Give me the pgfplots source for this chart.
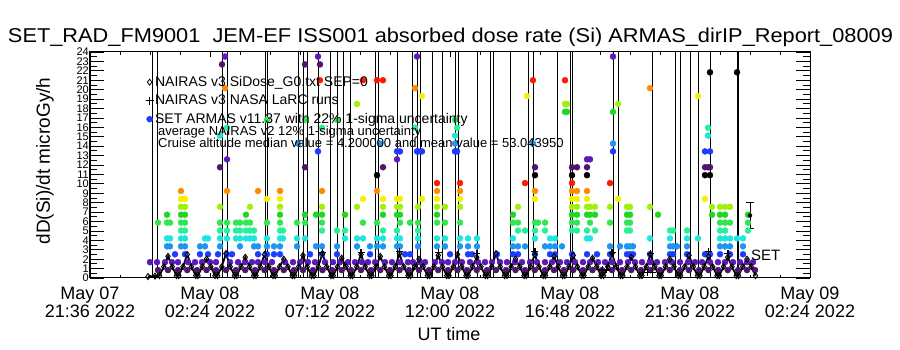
\documentclass[border=0pt]{standalone}
\usepackage{pgfplots}
\pgfplotsset{compat=1.18}
\usepackage{fontspec}
\setmainfont{Liberation Sans}
\definecolor{c0}{RGB}{0,0,0}
\definecolor{c1}{RGB}{80,20,110}
\definecolor{c2}{RGB}{90,25,185}
\definecolor{c3}{RGB}{30,60,255}
\definecolor{c4}{RGB}{30,150,240}
\definecolor{c5}{RGB}{30,230,220}
\definecolor{c6}{RGB}{40,240,150}
\definecolor{c7}{RGB}{50,230,80}
\definecolor{c8}{RGB}{30,215,30}
\definecolor{c9}{RGB}{160,240,10}
\definecolor{c10}{RGB}{245,240,0}
\definecolor{c11}{RGB}{255,140,0}
\definecolor{c12}{RGB}{255,25,0}
\begin{document}
\begin{tikzpicture}
\useasboundingbox (0,0) rectangle (900pt,350pt);
% axis carrying the y ticks (long IDL-style ticks)
\begin{axis}[
  at={(90pt,72pt)}, anchor=south west,
  scale only axis, width=720pt, height=226pt,
  xmin=21.6, xmax=50.4, ymin=0, ymax=24,
  xtick=\empty,
  ytick={0,1,...,24},
  minor y tick num=1,
  tick pos=both, tick align=inside,
  major tick length=14pt, minor tick length=7pt,
  axis line style={line width=1pt},
  tick style={line width=0.8pt, black},
  /pgf/number format/assume math mode=true,
  yticklabel style={font=\fontsize{11}{11}\selectfont, inner sep=1pt},
]
\end{axis}
% data axis with short x ticks
\begin{axis}[
  at={(90pt,72pt)}, anchor=south west,
  scale only axis, width=720pt, height=226pt,
  xmin=21.6, xmax=50.4, ymin=0, ymax=24,
  xtick={21.6,26.4,31.2,36,40.8,45.6,50.4},
  xticklabels={{May 07\\21:36 2022},{May 08\\02:24 2022},{May 08\\07:12 2022},{May 08\\12:00 2022},{May 08\\16:48 2022},{May 08\\21:36 2022},{May 09\\02:24 2022}},
  minor x tick num=3,
  ytick=\empty,
  tick pos=both, tick align=inside,
  major tick length=5pt, minor tick length=3pt,
  axis line style={line width=1pt},
  tick style={line width=0.8pt, black},
  xticklabel style={font=\fontsize{18}{18}\selectfont, align=center, yshift=-5pt},
  legend style={at={(axis description cs:0.077,0.905)}, anchor=north west, draw=none, fill=none, inner sep=0pt, font=\fontsize{14}{14}\selectfont, row sep=1.5pt, nodes={inner sep=1.5pt, text height=11pt, text depth=3pt}},
  legend cell align=left,
  legend image code/.code={\draw[mark repeat=2,mark phase=2,#1] plot coordinates {(0cm,0cm) (0.15cm,0cm) (0.3cm,0cm)};},
]
\addlegendimage{only marks, mark=diamond, mark size=3pt, black, line width=0.8pt}
\addlegendentry{NAIRAS v3 SiDose\_G0.txt SEP=0}
\addlegendimage{only marks, mark=+, mark size=4pt, black, line width=1.2pt}
\addlegendentry{NAIRAS v3 NASA LaRC runs}
\addlegendimage{only marks, mark=*, mark size=3pt, c3}
\addlegendentry{SET ARMAS v11.37 with 22\% 1-sigma uncertainty}

% vertical lines
\addplot[forget plot, ycomb, black, line width=0.8pt, mark=none] coordinates {
(24.08,24) (24.28,24) (26.88,24) (27.08,24) (28.60,24) (28.68,24) (29.92,24) (30.12,24) (30.28,24) (30.72,24) (31.20,24) (31.48,24) (31.72,24) (32.00,24) (33.00,24) (33.12,24) (33.88,24) (34.48,24) (34.68,24) (34.80,24) (35.28,24) (35.68,24) (36.20,24) (36.32,24) (37.08,24) (37.60,24) (37.72,24) (38.40,24) (39.12,24) (39.32,24) (40.28,24) (40.80,24) (40.88,24) (42.52,24) (42.72,24) (44.08,24) (45.00,24) (45.20,24) (45.60,24) (45.92,24) (46.40,24) (47.48,24) (47.52,24)};

% SET ARMAS dose rate points, class = colour index
\addplot[forget plot, scatter, only marks, mark=*, mark size=3pt, scatter src=explicit symbolic,
  scatter/classes={0={draw=c0,fill=c0},1={draw=c1,fill=c1},2={draw=c2,fill=c2},3={draw=c3,fill=c3},4={draw=c4,fill=c4},5={draw=c5,fill=c5},6={draw=c6,fill=c6},7={draw=c7,fill=c7},8={draw=c8,fill=c8},9={draw=c9,fill=c9},10={draw=c10,fill=c10},11={draw=c11,fill=c11},12={draw=c12,fill=c12}}]
coordinates {
(24.00,1.68)[2] (24.28,1.68)[2] (24.60,1.68)[2] (24.88,1.68)[2] (25.12,1.68)[2] (25.52,1.68)[2] (25.80,1.68)[2] (26.08,1.68)[2] (26.40,1.68)[2] (26.64,1.68)[2] (27.20,1.68)[2] (27.52,1.68)[2] (27.80,1.68)[2] (28.08,1.68)[2] (28.32,1.68)[2] (28.60,1.68)[2] (28.88,1.68)[2] (29.40,1.68)[2] (29.72,1.68)[2] (30.00,1.68)[2] (30.32,1.68)[2] (30.60,1.68)[2] (31.00,1.68)[2] (31.32,1.68)[2] (31.60,1.68)[2] (31.92,1.68)[2] (32.20,1.68)[2] (32.48,1.68)[2] (32.72,1.68)[2] (33.00,1.68)[2] (33.40,1.68)[2] (33.68,1.68)[2] (34.00,1.68)[2] (34.32,1.68)[2] (34.52,1.68)[2] (34.80,1.68)[2] (35.00,1.68)[2] (35.40,1.68)[2] (35.68,1.68)[2] (35.92,1.68)[2] (36.20,1.68)[2] (36.48,1.68)[2] (36.80,1.68)[2] (37.12,1.68)[2] (37.40,1.68)[2] (37.68,1.68)[2] (38.00,1.68)[2] (38.28,1.68)[2] (38.60,1.68)[2] (38.88,1.68)[2] (39.20,1.68)[2] (39.48,1.68)[2] (39.80,1.68)[2] (40.08,1.68)[2] (40.40,1.68)[2] (40.68,1.68)[2] (41.00,1.68)[2] (41.32,1.68)[2] (41.60,1.68)[2] (41.92,1.68)[2] (42.20,1.68)[2] (42.48,1.68)[2] (42.80,1.68)[2] (43.12,1.68)[2] (43.40,1.68)[2] (43.68,1.68)[2] (44.00,1.68)[2] (44.28,1.68)[2] (44.60,1.68)[2] (44.88,1.68)[2] (45.20,1.68)[2] (45.52,1.68)[2] (45.80,1.68)[2] (46.08,1.68)[2] (46.40,1.68)[2] (46.72,1.68)[2] (47.00,1.68)[2] (47.32,1.68)[2] (47.60,1.68)[2] (47.88,1.68)[2] (48.12,1.68)[2]
(24.32,0.84)[1] (25.12,0.84)[1] (25.88,0.84)[1] (26.64,0.84)[1] (27.44,0.84)[1] (28.20,0.84)[1] (28.96,0.84)[1] (29.76,0.84)[1] (30.52,0.84)[1] (31.28,0.84)[1] (32.04,0.84)[1] (32.84,0.84)[1] (33.60,0.84)[1] (34.36,0.84)[1] (35.16,0.84)[1] (35.92,0.84)[1] (36.68,0.84)[1] (37.48,0.84)[1] (38.24,0.84)[1] (39.00,0.84)[1] (39.80,0.84)[1] (40.56,0.84)[1] (41.32,0.84)[1] (42.08,0.84)[1] (42.88,0.84)[1] (43.64,0.84)[1] (44.40,0.84)[1] (45.20,0.84)[1] (45.96,0.84)[1] (46.72,0.84)[1] (47.52,0.84)[1] (48.20,0.84)[1]
(24.72,0.84)[1] (25.49,0.84)[1] (26.26,0.84)[1] (27.04,0.84)[1] (27.81,0.84)[1] (28.58,0.84)[1] (29.35,0.84)[1] (30.12,0.84)[1] (30.90,0.84)[1] (31.67,0.84)[1] (32.44,0.84)[1] (33.21,0.84)[1] (33.98,0.84)[1] (34.76,0.84)[1] (35.53,0.84)[1] (36.30,0.84)[1] (37.07,0.84)[1] (37.84,0.84)[1] (38.62,0.84)[1] (39.39,0.84)[1] (40.16,0.84)[1] (40.93,0.84)[1] (41.70,0.84)[1] (42.48,0.84)[1] (43.25,0.84)[1] (44.02,0.84)[1] (44.79,0.84)[1] (45.56,0.84)[1] (46.34,0.84)[1] (47.11,0.84)[1] (47.88,0.84)[1]
(24.32,5.88)[7]
(24.68,3.36)[4] (24.68,4.20)[5] (24.68,5.88)[7] (24.68,6.72)[8]
(24.80,3.36)[4] (24.80,4.20)[5] (24.80,5.88)[7]
(25.00,2.52)[3]
(25.24,3.36)[4] (25.24,4.20)[5] (25.24,5.04)[6] (25.24,5.88)[7] (25.24,6.72)[8] (25.24,7.56)[9] (25.24,8.40)[10] (25.24,9.24)[11]
(25.40,2.52)[3] (25.40,3.36)[4] (25.40,4.20)[5] (25.40,5.04)[6] (25.40,5.88)[7] (25.40,6.72)[8] (25.40,7.56)[9] (25.40,8.40)[10]
(26.00,2.52)[3] (26.00,3.36)[4]
(26.20,3.36)[4] (26.20,4.20)[5]
(26.32,2.52)[3] (26.32,4.20)[5]
(26.72,2.52)[3]
(26.80,3.36)[4] (26.80,4.20)[5] (26.80,5.04)[6] (26.80,5.88)[7] (26.80,7.56)[9] (26.80,11.76)[1] (26.80,15.12)[5]
(26.88,22.68)[1]
(27.00,20.16)[11] (27.00,23.52)[2]
(27.08,2.52)[3] (27.08,4.20)[5] (27.08,5.04)[6] (27.08,5.88)[7] (27.08,9.24)[11] (27.08,12.60)[2] (27.08,15.96)[6]
(27.28,2.52)[3]
(27.44,4.20)[5] (27.44,5.04)[6] (27.44,5.88)[7]
(27.60,3.36)[4] (27.60,4.20)[5] (27.60,5.04)[6] (27.60,5.88)[7]
(27.84,4.20)[5] (27.84,5.04)[6] (27.84,5.88)[7] (27.84,6.72)[8]
(28.00,4.20)[5] (28.00,5.04)[6] (28.00,5.88)[7] (28.00,7.56)[9]
(28.16,3.36)[4] (28.16,4.20)[5] (28.16,5.04)[6]
(28.32,2.52)[3] (28.32,3.36)[4] (28.32,9.24)[11]
(28.68,2.52)[3] (28.68,3.36)[4] (28.68,4.20)[5] (28.68,5.88)[7] (28.68,8.40)[10] (28.68,16.80)[7]
(28.96,2.52)[3] (28.96,3.36)[4]
(29.20,2.52)[3] (29.20,3.36)[4] (29.20,4.20)[5] (29.20,5.04)[6] (29.20,5.88)[7] (29.20,6.72)[8] (29.20,7.56)[9] (29.20,8.40)[10] (29.20,9.24)[11]
(29.32,4.20)[5] (29.32,5.04)[6]
(29.88,3.36)[4] (29.88,4.20)[5] (29.88,5.88)[7]
(29.92,14.28)[4]
(30.20,4.20)[5] (30.20,5.88)[7] (30.20,6.72)[8] (30.20,11.76)[1] (30.20,16.80)[7] (30.20,22.68)[1]
(30.40,2.52)[3]
(30.64,3.36)[4] (30.64,6.72)[8]
(30.72,13.44)[3] (30.72,23.52)[2]
(30.80,21.00)[12] (30.80,22.68)[1]
(30.88,2.52)[3] (30.88,3.36)[4] (30.88,5.04)[6] (30.88,5.88)[7] (30.88,6.72)[8] (30.88,7.56)[9] (30.88,9.24)[11] (30.88,15.96)[6]
(31.48,2.52)[3] (31.48,3.36)[4] (31.48,5.04)[6] (31.48,16.80)[7]
(31.80,4.20)[5] (31.80,5.04)[6] (31.80,6.72)[8]
(32.28,3.36)[4] (32.28,4.20)[5] (32.28,7.56)[9] (32.28,18.48)[9]
(32.52,4.20)[5] (32.52,5.88)[7] (32.52,8.40)[10] (32.52,21.00)[12]
(32.80,2.52)[3] (32.80,3.36)[4]
(33.08,3.36)[4] (33.08,4.20)[5] (33.08,5.88)[7] (33.08,9.24)[11] (33.08,10.92)[0] (33.08,21.00)[12]
(33.20,14.28)[4]
(33.32,3.36)[4] (33.32,4.20)[5] (33.32,5.04)[6] (33.32,6.72)[8] (33.32,7.56)[9] (33.32,8.40)[10] (33.32,11.76)[1] (33.32,21.00)[12]
(33.88,3.36)[4] (33.88,4.20)[5] (33.88,5.04)[6] (33.88,6.72)[8] (33.88,7.56)[9] (33.88,8.40)[10] (33.88,12.60)[2] (33.88,13.44)[3]
(34.00,3.36)[4] (34.00,4.20)[5] (34.00,5.88)[7] (34.00,6.72)[8] (34.00,7.56)[9] (34.00,8.40)[10] (34.00,13.44)[3]
(34.20,2.52)[3]
(34.40,2.52)[3] (34.40,5.88)[7]
(34.60,15.96)[6] (34.60,20.16)[11]
(34.68,13.44)[3] (34.68,23.52)[2]
(34.72,3.36)[4] (34.72,4.20)[5] (34.72,5.04)[6] (34.72,5.88)[7] (34.72,7.56)[9] (34.72,13.44)[3]
(34.88,8.40)[10] (34.88,13.44)[3] (34.88,19.32)[10]
(35.48,3.36)[4] (35.48,4.20)[5] (35.48,5.88)[7] (35.48,6.72)[8] (35.48,7.56)[9] (35.48,8.40)[10] (35.48,9.24)[11] (35.48,10.08)[12]
(35.80,3.36)[4] (35.80,4.20)[5] (35.80,5.88)[7] (35.80,7.56)[9]
(36.00,2.52)[3]
(36.20,13.44)[3] (36.20,14.28)[4] (36.20,15.12)[5] (36.20,16.80)[7]
(36.28,13.44)[3] (36.28,15.96)[6]
(36.40,3.36)[4] (36.40,4.20)[5] (36.40,5.88)[7] (36.40,7.56)[9] (36.40,8.40)[10] (36.40,9.24)[11] (36.40,10.08)[12]
(36.72,2.52)[3] (36.72,3.36)[4] (36.72,4.20)[5]
(36.88,2.52)[3]
(37.08,3.36)[4] (37.08,4.20)[5]
(37.88,2.52)[3]
(38.52,2.52)[3] (38.52,3.36)[4] (38.52,4.20)[5] (38.52,5.88)[7] (38.52,6.72)[8]
(38.72,2.52)[3] (38.72,3.36)[4] (38.72,5.04)[6] (38.72,5.88)[7] (38.72,7.56)[9]
(39.00,3.36)[4] (39.00,5.04)[6] (39.00,10.08)[12]
(39.08,19.32)[10]
(39.32,14.28)[4] (39.32,21.00)[12]
(39.40,2.52)[3] (39.40,4.20)[5] (39.40,5.04)[6] (39.40,5.88)[7] (39.40,8.40)[10] (39.40,9.24)[11] (39.40,10.92)[0] (39.40,11.76)[1]
(39.52,5.88)[7]
(39.80,3.36)[4] (39.80,5.04)[6] (39.80,5.88)[7]
(40.00,2.52)[3] (40.00,3.36)[4] (40.00,4.20)[5]
(40.20,2.52)[3] (40.20,3.36)[4] (40.20,4.20)[5]
(40.48,3.36)[4]
(40.60,17.64)[8] (40.60,18.48)[9] (40.60,21.00)[12]
(40.68,17.64)[8] (40.68,18.48)[9]
(40.88,2.52)[3] (40.88,5.04)[6] (40.88,5.88)[7] (40.88,6.72)[8] (40.88,7.56)[9] (40.88,8.40)[10] (40.88,9.24)[11] (40.88,10.08)[12] (40.88,10.92)[0] (40.88,11.76)[1]
(41.08,5.04)[6] (41.08,5.88)[7] (41.08,6.72)[8] (41.08,7.56)[9] (41.08,8.40)[10] (41.08,9.24)[11] (41.08,11.76)[1]
(41.48,2.52)[3] (41.48,4.20)[5] (41.48,5.04)[6] (41.48,6.72)[8] (41.48,7.56)[9] (41.48,8.40)[10] (41.48,9.24)[11] (41.48,10.92)[0] (41.48,11.76)[1] (41.48,12.60)[2]
(41.60,4.20)[5] (41.60,5.88)[7] (41.60,6.72)[8] (41.60,7.56)[9] (41.60,12.60)[2]
(41.80,5.04)[6] (41.80,6.72)[8] (41.80,7.56)[9]
(41.88,2.52)[3]
(42.40,2.52)[3] (42.40,3.36)[4] (42.40,5.88)[7] (42.40,7.56)[9] (42.40,10.08)[12]
(42.52,13.44)[3] (42.52,14.28)[4] (42.52,17.64)[8] (42.52,23.52)[2]
(42.72,8.40)[10] (42.72,18.48)[9]
(42.80,3.36)[4]
(43.08,2.52)[3] (43.08,3.36)[4] (43.08,5.04)[6] (43.08,5.88)[7] (43.08,6.72)[8] (43.08,7.56)[9]
(43.20,2.52)[3] (43.20,3.36)[4] (43.20,5.04)[6] (43.20,5.88)[7] (43.20,6.72)[8] (43.20,7.56)[9]
(43.32,2.52)[3] (43.32,3.36)[4]
(44.00,2.52)[3] (44.00,4.20)[5] (44.00,7.56)[9] (44.00,20.16)[11]
(44.32,6.72)[8]
(44.80,2.52)[3] (44.80,3.36)[4] (44.80,4.20)[5] (44.80,5.04)[6]
(44.92,2.52)[3] (44.92,3.36)[4] (44.92,5.04)[6]
(45.08,3.36)[4]
(45.48,2.52)[3] (45.48,3.36)[4] (45.48,4.20)[5] (45.48,5.04)[6]
(45.92,4.20)[5] (45.92,19.32)[10]
(46.20,2.52)[3] (46.20,8.40)[10] (46.20,10.92)[0] (46.20,11.76)[1] (46.20,13.44)[3]
(46.32,11.76)[1] (46.32,15.12)[5] (46.32,15.96)[6]
(46.40,2.52)[3] (46.40,10.92)[0] (46.40,11.76)[1] (46.40,13.44)[3] (46.40,21.84)[0]
(46.48,6.72)[8] (46.48,7.56)[9]
(46.80,2.52)[3] (46.80,3.36)[4] (46.80,4.20)[5] (46.80,5.04)[6] (46.80,5.88)[7] (46.80,6.72)[8] (46.80,7.56)[9]
(47.00,3.36)[4] (47.00,4.20)[5] (47.00,5.04)[6] (47.00,5.88)[7] (47.00,6.72)[8] (47.00,7.56)[9]
(47.20,2.52)[3] (47.20,3.36)[4] (47.20,4.20)[5] (47.20,5.88)[7] (47.20,7.56)[9]
(47.48,4.20)[5] (47.48,21.84)[0]
(47.72,2.52)[3] (47.72,3.36)[4] (47.72,4.20)[5]
(47.92,5.04)[6] (47.92,5.88)[7] (47.92,6.72)[8]
};

% NAIRAS v3 SiDose curve (diamonds)
\addplot[forget plot, black, line width=1.8pt, mark=diamond, mark size=3pt, mark options={line width=0.9pt, fill=white}] coordinates {
(23.92,0.15) (24.20,0.20)
(24.38,0.25) (24.55,1.2) (24.72,2.3) (24.89,1.2) (25.06,0.25)
(25.15,0.25) (25.32,1.2) (25.49,2.5) (25.66,1.2) (25.83,0.25)
(25.92,0.25) (26.09,1.2) (26.26,2.0) (26.43,1.2) (26.60,0.25)
(26.70,0.25) (26.87,1.2) (27.04,2.6) (27.21,1.2) (27.38,0.25)
(27.47,0.25) (27.64,1.2) (27.81,2.2) (27.98,1.2) (28.15,0.25)
(28.24,0.25) (28.41,1.2) (28.58,2.5) (28.75,1.2) (28.92,0.25)
(29.01,0.25) (29.18,1.2) (29.35,2.0) (29.52,1.2) (29.69,0.25)
(29.78,0.25) (29.95,1.2) (30.12,2.4) (30.29,1.2) (30.46,0.25)
(30.56,0.25) (30.73,1.2) (30.90,2.6) (31.07,1.2) (31.24,0.25)
(31.33,0.25) (31.50,1.2) (31.67,2.1) (31.84,1.2) (32.01,0.25)
(32.10,0.25) (32.27,1.2) (32.44,2.5) (32.61,1.2) (32.78,0.25)
(32.87,0.25) (33.04,1.2) (33.21,2.3) (33.38,1.2) (33.55,0.25)
(33.64,0.25) (33.81,1.2) (33.98,2.6) (34.15,1.2) (34.32,0.25)
(34.42,0.25) (34.59,1.2) (34.76,2.0) (34.93,1.2) (35.10,0.25)
(35.19,0.25) (35.36,1.2) (35.53,2.4) (35.70,1.2) (35.87,0.25)
(35.96,0.25) (36.13,1.2) (36.30,2.5) (36.47,1.2) (36.64,0.25)
(36.73,0.25) (36.90,1.2) (37.07,2.2) (37.24,1.2) (37.41,0.25)
(37.50,0.25) (37.67,1.2) (37.84,2.6) (38.01,1.2) (38.18,0.25)
(38.28,0.25) (38.45,1.2) (38.62,2.0) (38.79,1.2) (38.96,0.25)
(39.05,0.25) (39.22,1.2) (39.39,2.5) (39.56,1.2) (39.73,0.25)
(39.82,0.25) (39.99,1.2) (40.16,2.3) (40.33,1.2) (40.50,0.25)
(40.59,0.25) (40.76,1.2) (40.93,2.4) (41.10,1.2) (41.27,0.25)
(41.36,0.25) (41.53,1.2) (41.70,2.1) (41.87,1.2) (42.04,0.25)
(42.14,0.25) (42.31,1.2) (42.48,2.6) (42.65,1.2) (42.82,0.25)
(42.91,0.25) (43.08,1.2) (43.25,2.2) (43.42,1.2) (43.59,0.25)
(43.68,0.25) (43.85,1.2) (44.02,2.5) (44.19,1.2) (44.36,0.25)
(44.45,0.25) (44.62,1.2) (44.79,2.0) (44.96,1.2) (45.13,0.25)
(45.22,0.25) (45.39,1.2) (45.56,2.4) (45.73,1.2) (45.90,0.25)
(46.00,0.25) (46.17,1.2) (46.34,2.3) (46.51,1.2) (46.68,0.25)
(46.77,0.25) (46.94,1.2) (47.11,2.2) (47.28,1.2) (47.45,0.25)
(47.54,0.25) (47.71,1.2) (47.88,2.0) (48.05,1.2) (48.22,0.25)
};

% NAIRAS v3 NASA LaRC runs (plus)
\addplot[forget plot, only marks, mark=+, mark size=3.5pt, black, line width=1.5pt] coordinates {
(30.90,2.7) (32.44,2.7) (33.98,2.8) (35.53,2.7) (37.07,2.6) (39.39,2.8) (42.48,2.7) (44.02,2.6) (46.34,2.8) (47.11,2.6)
(42.10,0.85) (42.25,0.85) (43.70,0.6) (43.90,0.6) (44.10,0.6)};

% SET error bar
\addplot[forget plot, only marks, mark=none, black, error bars/.cd, y dir=both, y explicit, error bar style={line width=1pt, black}, error mark options={rotate=90, mark size=4pt, line width=1pt, black}] coordinates {(48.0,6.64) +- (0,1.43)};
\end{axis}
\node[anchor=base] at (450.5pt,307pt) {\resizebox{885pt}{\height}{\fontsize{20}{20}\selectfont SET\_RAD\_FM9001\ \ JEM-EF ISS001 absorbed dose rate (Si) ARMAS\_dirIP\_Report\_08009}};
\node[rotate=90, font=\fontsize{19}{19}\selectfont] at (45pt,189pt) {dD(Si)/dt microGy/h};
\node[font=\fontsize{18}{18}\selectfont] at (449pt,16pt) {UT time};
\node[anchor=base west, inner sep=0pt, font=\fontsize{13}{13}\selectfont] at (158pt,214pt) {average NAIRAS v2 12\% 1-sigma uncertainty};
\node[anchor=base west, inner sep=0pt, font=\fontsize{13}{13}\selectfont] at (158pt,202pt) {Cruise altitude median value = 4.200000 and mean value = 53.043950};
\node[anchor=west, inner sep=0pt, font=\fontsize{15}{15}\selectfont] at (751pt,94.5pt) {SET};
\end{tikzpicture}
\end{document}
